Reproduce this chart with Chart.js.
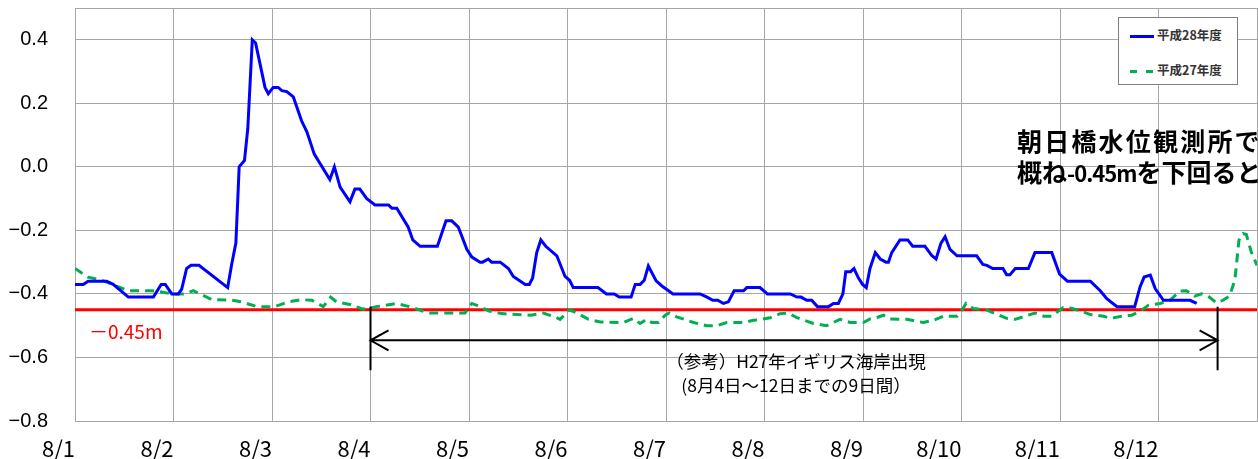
<!DOCTYPE html>
<html lang="ja">
<head>
<meta charset="utf-8">
<title>朝日橋水位</title>
<script src="https://cdn.jsdelivr.net/npm/chart.js"></script>
<style>
  body { margin: 0; background: #fff; }
  #wrap { position: relative; width: 1258px; height: 459px; overflow: hidden; font-family: "Noto Sans CJK JP", sans-serif; }
  #levelChart { position: absolute; left: 0; top: 0; }
  .note { position: absolute; white-space: nowrap; }
  #legend { position: absolute; left: 1118px; top: 17px; width: 118px; height: 66px; border: 1px solid #808080; background: #fff; font-size: 12.5px; font-weight: bold; color: #333; }
  #legend .row { position: absolute; left: 11px; height: 16px; line-height: 16px; }
  #legend .swatch { display: inline-block; width: 24px; height: 3px; vertical-align: middle; margin-right: 3px; }
  #legend .dash { display: inline-block; width: 7px; height: 3px; background: #00b050; vertical-align: top; }
</style>
</head>
<body>
<div id="wrap">
  <canvas id="levelChart" width="1258" height="459"></canvas>

  <div id="legend">
    <div class="row" style="top:9px"><span class="swatch" style="background:#0000ff"></span>平成28年度</div>
    <div class="row" style="top:44px"><span class="swatch"><span class="dash"></span><span class="dash" style="margin-left:9px"></span></span>平成27年度</div>
  </div>

  <div class="note" style="left:89px; top:317px; color:#ff0000; font-size:19px;">－0.45m</div>
  <div class="note" style="left:640px; top:349px; width:312px; text-align:center; font-size:17.5px; line-height:24px;">（参考）H27年イギリス海岸出現<br>(8月4日～12日までの9日間）</div>
  <div class="note" style="left:1017px; top:125px; font-size:25px; font-weight:bold; line-height:31px;"><span style="letter-spacing:2.2px">朝日橋水位観測所で</span><br>概ね<span style="font-size:22px; letter-spacing:-1px">-0.45m</span>を下回ると</div>
</div>

<script>
  // hours counted from 8/1 0:00
  const dayLabels = ["8/1", "8/2", "8/3", "8/4", "8/5", "8/6", "8/7", "8/8", "8/9", "8/10", "8/11", "8/12"];
  const threshold = -0.45;

  // 平成28年度
  const h28Hours = [0, 2, 3.2, 7.7, 9.3, 13, 19.1, 21, 22, 23.6, 25.2, 26, 27.2, 28.3, 30.2, 37.2, 38.2, 39.2, 40, 41.3,
    42.1, 43.2, 44, 46.3, 47.1, 48.3, 49.5, 50.4, 51.6, 53.2, 55.2, 56.5, 58.3, 62.1, 63.2, 64.6, 67, 68.2, 69.4, 71.1,
    73.1, 76.4, 77.2, 78.4, 81.2, 82.3, 84.1, 88.3, 90.4, 91.8, 93.4, 95.5, 96.7, 98.7, 99.3, 100.7, 101.5, 103.6, 105.6, 106.8,
    109.7, 110.7, 111.5, 112.5, 113.5, 114.7, 117.4, 119.4, 120.5, 121.4, 127.4, 129.5, 131.4, 132.6, 135.5, 136.5, 137.7, 138.7, 139.7, 141.6,
    143, 145.7, 152.3, 154, 155.4, 156.6, 158, 159.2, 160.6, 162.9, 163.7, 166.9, 168.7, 174.3, 175.9, 176.9, 178.3, 179.5, 180.9, 183.6,
    184.8, 186, 187.1, 187.8, 189, 189.8, 190.9, 191.9, 192.8, 193.7, 195, 196.2, 197.6, 198.2, 199, 201, 202.9, 204.1, 207.1, 208.8,
    209.8, 211, 212, 213.2, 214.9, 219.7, 221.2, 222.2, 223.6, 226.1, 227, 227.8, 229.1, 232.3, 233.9, 238, 239.9, 241.8, 247.4, 249.8,
    251.4, 253.9, 258.2, 259.5, 260.5, 262, 263.2, 265.2, 271.7, 273.3];
  const h28Levels = [-0.37, -0.37, -0.36, -0.36, -0.37, -0.41, -0.41, -0.37, -0.37, -0.40, -0.40, -0.385, -0.32, -0.31, -0.31, -0.38, -0.305, -0.24, 0.0, 0.02,
    0.12, 0.40, 0.39, 0.25, 0.23, 0.25, 0.25, 0.24, 0.237, 0.22, 0.145, 0.11, 0.04, -0.04, 0.0, -0.064, -0.11, -0.07, -0.07, -0.10,
    -0.12, -0.12, -0.13, -0.13, -0.19, -0.23, -0.25, -0.25, -0.17, -0.17, -0.19, -0.26, -0.284, -0.30, -0.30, -0.29, -0.30, -0.30, -0.32, -0.345,
    -0.37, -0.37, -0.35, -0.27, -0.23, -0.25, -0.28, -0.345, -0.357, -0.38, -0.38, -0.40, -0.40, -0.41, -0.41, -0.37, -0.37, -0.357, -0.312, -0.359,
    -0.375, -0.40, -0.40, -0.41, -0.42, -0.42, -0.43, -0.425, -0.39, -0.39, -0.38, -0.38, -0.40, -0.40, -0.41, -0.41, -0.42, -0.42, -0.44, -0.44,
    -0.43, -0.43, -0.40, -0.33, -0.33, -0.32, -0.35, -0.37, -0.38, -0.32, -0.27, -0.29, -0.30, -0.30, -0.27, -0.23, -0.23, -0.25, -0.25, -0.28,
    -0.29, -0.24, -0.22, -0.26, -0.28, -0.28, -0.307, -0.31, -0.32, -0.32, -0.34, -0.34, -0.32, -0.32, -0.27, -0.27, -0.338, -0.36, -0.36, -0.39,
    -0.415, -0.44, -0.44, -0.378, -0.347, -0.341, -0.383, -0.42, -0.42, -0.43];

  // 平成27年度
  const h27Hours = [0, 3.2, 6.5, 10.6, 13, 18.7, 21.1, 23.6, 26.8, 28.8, 30.5, 33.3, 38.2, 40.6, 44.3, 48.7, 52, 55.2, 57.7, 60.5,
    62.3, 63.7, 67, 70.2, 73.5, 78.4, 82.4, 85.9, 95, 96.7, 98.1, 100.9, 104, 111, 114.1, 116.6, 118.2, 120.4, 122.3, 125.1,
    128, 133.6, 136, 137.7, 139.3, 140.5, 142.2, 143.8, 144.8, 146.6, 150.7, 153.9, 156.4, 158.8, 162.9, 165.3, 167.3, 169.4, 171.8, 173.8,
    175.9, 179.9, 183.1, 186.4, 188.9, 192.1, 193.7, 195.4, 197, 198.6, 202.7, 206.7, 209.2, 211.6, 214.9, 216.1, 217.1, 218.9, 222.2, 224.6,
    227, 229.1, 231.5, 233.9, 236, 238, 239.6, 240.8, 242.8, 245.7, 247.4, 250.6, 252.2, 255.1, 257.5, 259.5, 261.5, 264.4, 266.8, 269.2,
    270.8, 272.8, 274.5, 276.1, 278.1, 279.7, 281.3, 282.6, 283.6, 284.6, 285.4, 286.6, 288];
  const h27Levels = [-0.32, -0.347, -0.357, -0.378, -0.39, -0.39, -0.394, -0.40, -0.40, -0.39, -0.40, -0.418, -0.42, -0.425, -0.44, -0.44, -0.425, -0.418, -0.42, -0.44,
    -0.41, -0.425, -0.433, -0.448, -0.44, -0.43, -0.443, -0.46, -0.46, -0.43, -0.437, -0.454, -0.462, -0.467, -0.46, -0.471, -0.48, -0.45, -0.46, -0.48,
    -0.488, -0.49, -0.477, -0.493, -0.48, -0.49, -0.49, -0.467, -0.46, -0.472, -0.49, -0.50, -0.50, -0.49, -0.49, -0.483, -0.48, -0.475, -0.462, -0.46,
    -0.475, -0.493, -0.50, -0.48, -0.49, -0.49, -0.479, -0.474, -0.467, -0.479, -0.48, -0.49, -0.483, -0.47, -0.47, -0.451, -0.43, -0.446, -0.451, -0.464,
    -0.477, -0.48, -0.47, -0.46, -0.47, -0.47, -0.454, -0.443, -0.445, -0.457, -0.465, -0.47, -0.477, -0.47, -0.467, -0.454, -0.436, -0.43, -0.42, -0.391,
    -0.39, -0.407, -0.40, -0.407, -0.428, -0.42, -0.407, -0.357, -0.231, -0.21, -0.213, -0.268, -0.31];

  // reference span: 8/4 0:00 to the end marker on 8/12
  const spanStart = 72;
  const spanEnd = 278.4;

  const gridColor = "#a6a6a6";

  const spanArrow = {
    id: "spanArrow",
    afterDatasetsDraw(chart) {
      const x = chart.scales.x, y = chart.scales.y, ctx = chart.ctx;
      const x1 = x.getPixelForValue(spanStart), x2 = x.getPixelForValue(spanEnd);
      const ym = y.getPixelForValue(-0.546);
      const yt = y.getPixelForValue(-0.44), yb = y.getPixelForValue(-0.64);
      ctx.save();
      ctx.strokeStyle = "#000";
      ctx.lineWidth = 2;
      ctx.beginPath();
      ctx.moveTo(x1, yt); ctx.lineTo(x1, yb);
      ctx.moveTo(x2, yt); ctx.lineTo(x2, yb);
      ctx.moveTo(x1, ym); ctx.lineTo(x2, ym);
      ctx.moveTo(x1 + 18, ym - 10); ctx.lineTo(x1, ym); ctx.lineTo(x1 + 18, ym + 10);
      ctx.moveTo(x2 - 18, ym - 10); ctx.lineTo(x2, ym); ctx.lineTo(x2 - 18, ym + 10);
      ctx.stroke();
      ctx.restore();
    }
  };

  new Chart(document.getElementById("levelChart").getContext("2d"), {
    type: "line",
    data: {
      datasets: [
        {
          label: "平成28年度",
          data: h28Hours.map((h, i) => ({ x: h, y: h28Levels[i] })),
          borderColor: "#0000ff",
          borderWidth: 3,
          pointRadius: 0,
          tension: 0,
        },
        {
          label: "平成27年度",
          data: h27Hours.map((h, i) => ({ x: h, y: h27Levels[i] })),
          borderColor: "#00b050",
          borderWidth: 3,
          borderDash: [9, 6],
          pointRadius: 0,
          tension: 0,
        },
        {
          label: "threshold",
          data: [{ x: 0, y: threshold }, { x: 288, y: threshold }],
          borderColor: "#ff0000",
          borderWidth: 3,
          pointRadius: 0,
        },
      ],
    },
    options: {
      responsive: false,
      devicePixelRatio: 1,
      animation: false,
      layout: { padding: { top: 8, right: 1, left: 0, bottom: 0 } },
      plugins: { legend: { display: false }, tooltip: { enabled: false } },
      scales: {
        x: {
          type: "linear",
          min: 0,
          max: 288,
          afterBuildTicks: (s) => { s.ticks = dayLabels.map((d, i) => ({ value: i * 24 })).concat([{ value: 288 }]); },
          afterFit: (s) => { s.height = 38; s.paddingLeft = 0; s.paddingRight = 0; },
          grid: { color: gridColor, drawTicks: false },
          border: { color: gridColor },
          ticks: {
            autoSkip: false,
            maxRotation: 0,
            align: "end",
            padding: 14,
            color: "#000",
            font: { family: "'Noto Sans CJK JP', sans-serif", size: 22 },
            callback: (v) => dayLabels[v / 24] || "",
          },
        },
        y: {
          min: -0.8,
          max: 0.5,
          afterBuildTicks: (s) => { s.ticks = [-0.8, -0.6, -0.4, -0.2, 0, 0.2, 0.4, 0.5].map((v) => ({ value: v })); },
          afterFit: (s) => { s.width = 75; s.paddingTop = 0; s.paddingBottom = 0; },
          grid: { color: gridColor, drawTicks: false },
          border: { color: gridColor },
          ticks: {
            padding: 27,
            color: "#000",
            font: { family: "'Liberation Sans', Arial, sans-serif", size: 20 },
            callback: (v) => (v > 0.45 ? "" : v.toFixed(1).replace("-", "−")),
          },
        },
      },
    },
    plugins: [spanArrow],
  });
</script>
</body>
</html>
